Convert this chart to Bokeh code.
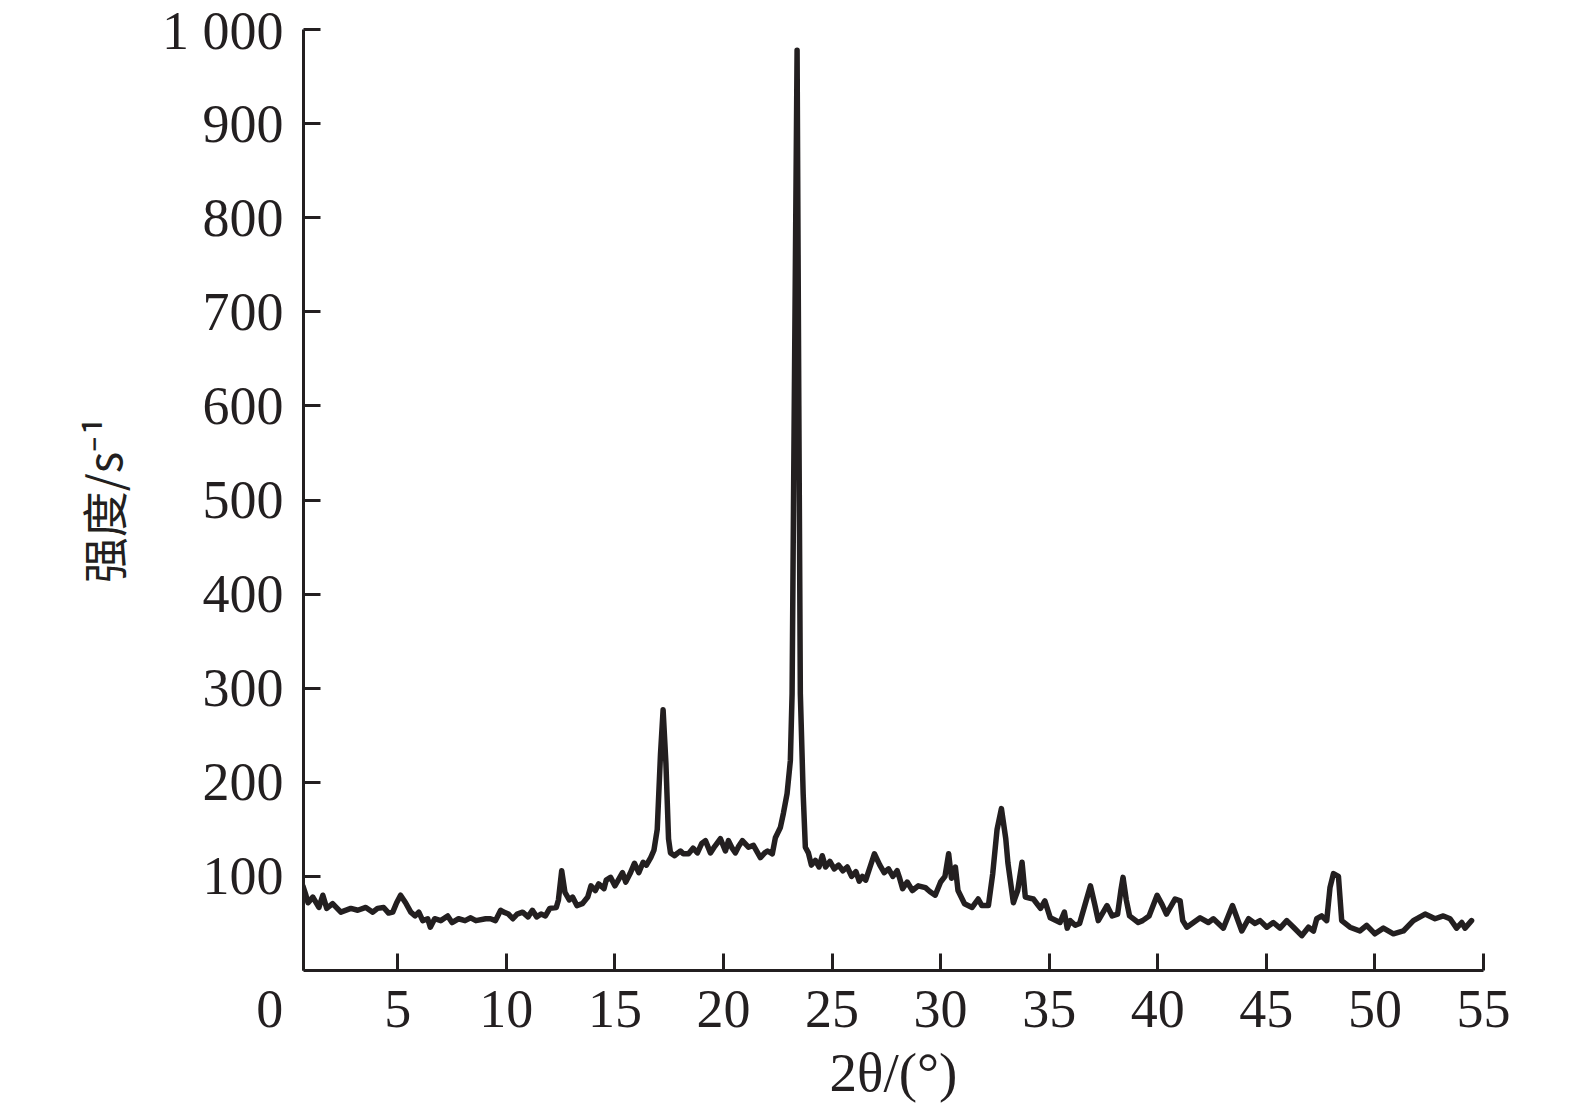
from bokeh.plotting import figure
from bokeh.models import FixedTicker, Range1d
from bokeh.embed import file_html
from bokeh.resources import INLINE

# 2θ (degrees) and intensity (counts per second)
two_theta = [
    0.63, 0.77, 0.87, 1.09, 1.37, 1.55, 1.73, 2.0, 2.38, 2.84, 3.16, 3.53, 3.85, 4.07, 4.35, 4.58,
    4.77, 4.95, 5.13, 5.36, 5.6, 5.8, 5.97, 6.15, 6.38, 6.5, 6.7, 6.98, 7.3, 7.5, 7.8, 8.1, 8.36,
    8.6, 9.05, 9.27, 9.5, 9.74, 9.88, 10.1, 10.3, 10.5, 10.75, 11.0, 11.2, 11.4, 11.6, 11.8, 12.0,
    12.3, 12.4, 12.55, 12.7, 12.9, 13.05, 13.25, 13.5, 13.75, 13.9, 14.1, 14.25, 14.5, 14.6, 14.8,
    15.0, 15.2, 15.35, 15.5, 15.7, 15.9, 16.1, 16.3, 16.45, 16.65, 16.8, 16.95, 17.1, 17.22, 17.35,
    17.47, 17.56, 17.75, 17.9, 18.02, 18.15, 18.39, 18.6, 18.8, 19.0, 19.17, 19.4, 19.6, 19.86,
    20.09, 20.23, 20.4, 20.55, 20.7, 20.87, 21.15, 21.38, 21.7, 21.9, 22.03, 22.25, 22.39, 22.62,
    22.76, 22.93, 23.08, 23.16, 23.26, 23.39, 23.47, 23.54, 23.67, 23.77, 23.91, 24.05, 24.23,
    24.4, 24.55, 24.7, 24.9, 25.1, 25.3, 25.5, 25.7, 25.9, 26.1, 26.25, 26.4, 26.55, 26.75, 26.95,
    27.2, 27.4, 27.6, 27.8, 28.0, 28.1, 28.25, 28.46, 28.7, 28.97, 29.3, 29.5, 29.75, 30.0, 30.2,
    30.37, 30.5, 30.68, 30.8, 31.1, 31.45, 31.73, 31.9, 32.2, 32.4, 32.6, 32.8, 33.0, 33.1, 33.35,
    33.55, 33.75, 33.9, 34.27, 34.6, 34.8, 35.05, 35.5, 35.7, 35.83, 35.97, 36.2, 36.4, 36.65,
    36.9, 37.1, 37.26, 37.66, 37.9, 38.15, 38.3, 38.4, 38.55, 38.7, 39.1, 39.3, 39.6, 39.97, 40.2,
    40.4, 40.8, 41.03, 41.15, 41.34, 41.95, 42.33, 42.56, 43.02, 43.44, 43.87, 44.18, 44.48, 44.71,
    45.02, 45.32, 45.63, 45.94, 46.25, 46.63, 46.94, 47.17, 47.32, 47.55, 47.78, 47.93, 48.09,
    48.32, 48.47, 48.85, 49.31, 49.62, 50.0, 50.39, 50.85, 51.31, 51.77, 52.31, 52.77, 53.15,
    53.46, 53.76, 54.0, 54.15, 54.45,
]
intensity = [
    90, 80, 72, 78, 67, 80, 66, 71, 62, 66, 64, 67, 62, 66, 67, 61,
    62, 72, 80, 72, 62, 58, 62, 53, 55, 46, 55, 53, 58, 51, 55, 53, 56,
    53, 55, 55, 53, 64, 62, 60, 55, 60, 62, 57, 64, 57, 60, 58, 66,
    67, 75, 106, 83, 75, 78, 69, 71, 78, 90, 85, 92, 87, 96, 99,
    90, 98, 104, 94, 103, 114, 104, 115, 112, 120, 128, 150, 230, 277, 220,
    140, 125, 122, 125, 127, 124, 124, 130, 125, 135, 138, 125, 132, 140,
    127, 138, 130, 125, 132, 138, 131, 133, 120, 125, 127, 124, 141, 152,
    167, 188, 223, 294, 600, 978, 600, 294, 188, 131, 125, 112, 117,
    110, 122, 110, 116, 108, 112, 106, 110, 100, 105, 95, 100, 96, 110, 124,
    112, 104, 108, 100, 106, 99, 87, 94, 85, 90, 88, 84, 80, 94, 100,
    124, 98, 110, 85, 71, 67, 76, 69, 69, 103, 150, 172, 140, 114, 72,
    85, 115, 78, 76, 66, 74, 56, 51, 62, 45, 53, 48, 50, 70,
    90, 70, 53, 69, 58, 60, 85, 99, 75, 58, 51, 53, 58, 80, 70,
    60, 76, 74, 53, 46, 56, 51, 55, 45, 69, 42, 55, 50, 53,
    46, 51, 45, 53, 46, 37, 46, 42, 55, 58, 53, 88, 103,
    100, 53, 46, 42, 48, 39, 45, 39, 42, 53, 60, 55, 58,
    55, 45, 51, 45, 53,
]

x_start = 0.66
x_ticks = [x_start, 5, 10, 15, 20, 25, 30, 35, 40, 45, 50, 55]
# origin "0" sits left of the axis corner, as in the reference
x_tick_labels = {x_start: "0" + "\u00a0" * 5}
y_ticks = [100, 200, 300, 400, 500, 600, 700, 800, 900, 1000]
y_tick_labels = {1000: "1 000"}

INK = "#231f20"
SERIF = "Liberation Serif"

p = figure(
    frame_width=1180, frame_height=941,
    min_border_left=303, min_border_right=76, min_border_top=29, min_border_bottom=125,
    x_range=Range1d(x_start, 55), y_range=Range1d(0, 1000),
    output_backend="svg", toolbar_location=None,
)
p.outline_line_color = None
p.grid.visible = False
p.background_fill_color = "white"
p.border_fill_color = "white"

p.line(two_theta, intensity, line_color=INK, line_width=5.5, line_join="round", line_cap="round")

for ax in (p.xaxis[0], p.yaxis[0]):
    ax.axis_line_color = INK
    ax.axis_line_width = 3
    ax.major_tick_line_color = INK
    ax.major_tick_line_width = 3
    ax.major_tick_in = 17
    ax.major_tick_out = 0
    ax.minor_tick_line_color = None
    ax.major_label_text_font = SERIF
    ax.major_label_text_font_size = "54px"
    ax.major_label_text_color = INK
    ax.axis_label_text_color = INK
    ax.axis_label_text_font_style = "normal"

p.xaxis.ticker = FixedTicker(ticks=x_ticks)
p.xaxis.major_label_overrides = x_tick_labels
p.yaxis.ticker = FixedTicker(ticks=y_ticks)
p.yaxis.major_label_overrides = y_tick_labels

p.xaxis.major_label_standoff = 8
p.yaxis.major_label_standoff = 20

p.xaxis.axis_label = "2θ/(°)"
p.xaxis.axis_label_text_font = SERIF
p.xaxis.axis_label_text_font_size = "55px"
p.xaxis.axis_label_standoff = 0

p.yaxis.axis_label = "强度/s⁻¹"
p.yaxis.axis_label_text_font = "Noto Sans CJK SC"
p.yaxis.axis_label_text_font_size = "46px"
p.yaxis.axis_label_standoff = 24

open("out.html", "w").write(file_html(p, INLINE))
